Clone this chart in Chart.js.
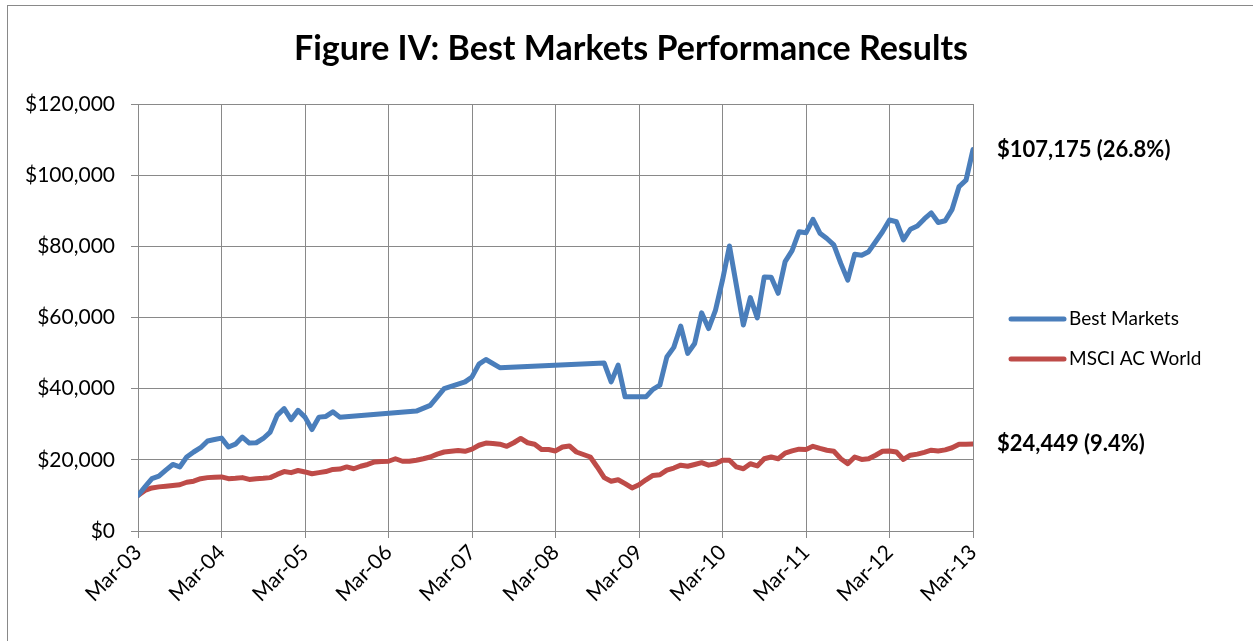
<!DOCTYPE html>
<html>
<head>
<meta charset="utf-8">
<script src="https://cdn.jsdelivr.net/npm/chart.js@4.4.1/dist/chart.umd.min.js"></script>
<style>
  html, body { margin: 0; padding: 0; background: #fff; }
  #wrap { width: 1253px; height: 641px; }
</style>
</head>
<body>
<div id="wrap"><canvas id="myChart" width="1253" height="641"></canvas></div>
<script>
// x axis: months counted from Mar-03
const tickLabels = ['Mar-03', 'Mar-04', 'Mar-05', 'Mar-06', 'Mar-07', 'Mar-08',
                    'Mar-09', 'Mar-10', 'Mar-11', 'Mar-12', 'Mar-13'];

// Best Markets (month index -> value)
const bestMonths = [0, 1, 2, 3, 4, 5, 6, 7, 8, 9, 10, 11, 12, 13, 14, 15, 16, 17, 18, 19,
                    20, 21, 22, 23, 24, 25, 26, 27, 28, 29, 40, 42, 44, 47, 48, 49, 50, 52, 67, 68,
                    69, 70, 73, 74, 75, 76, 77, 78, 79, 80, 81, 82, 83, 84, 85, 87, 88, 89, 90, 91,
                    92, 93, 94, 95, 96, 97, 98, 99, 100, 101, 102, 103, 104, 105, 106, 107, 108, 109, 110, 111,
                    112, 113, 114, 115, 116, 117, 118, 119, 120];
const bestValues = [10000, 12400, 14700, 15400, 17100, 18700, 18000, 20800, 22200, 23400,
                    25300, 25700, 26100, 23600, 24400, 26400, 24700, 24800, 26000, 27800,
                    32500, 34400, 31300, 33900, 32000, 28500, 32000, 32200, 33500, 32000,
                    33700, 35300, 40000, 41900, 43300, 46900, 48200, 45900, 47200, 41900,
                    46600, 37700, 37700, 39800, 41000, 48900, 51600, 57600, 49900, 52700,
                    61300, 56900, 62100, 70500, 80100, 57900, 65600, 59900, 71400, 71300,
                    66800, 75700, 78800, 84100, 83800, 87600, 83700, 82200, 80400, 75200,
                    70500, 77800, 77500, 78500, 81300, 84100, 87400, 86900, 81800, 84800,
                    85700, 87700, 89400, 86700, 87200, 90400, 96800, 98600, 107175];

// MSCI AC World, one value per month from Mar-03 to Mar-13
const msciValues = [10000, 11400, 12100, 12400, 12600, 12800, 13000, 13700, 14000, 14700,
                    15000, 15100, 15200, 14700, 14800, 15000, 14500, 14700, 14800, 15000,
                    15900, 16700, 16400, 17000, 16600, 16100, 16400, 16700, 17300, 17400,
                    18000, 17500, 18200, 18700, 19400, 19500, 19600, 20300, 19600, 19600,
                    19900, 20300, 20800, 21600, 22200, 22400, 22600, 22400, 23000, 24100,
                    24700, 24600, 24400, 23800, 24800, 26000, 24800, 24400, 22900, 22900,
                    22500, 23600, 23900, 22200, 21500, 20800, 18000, 15000, 14000, 14400,
                    13300, 12100, 13000, 14400, 15600, 15800, 17100, 17700, 18500, 18200,
                    18700, 19200, 18500, 18900, 19900, 19900, 18000, 17500, 18900, 18300,
                    20300, 20800, 20300, 21900, 22500, 23000, 22900, 23800, 23200, 22700,
                    22400, 20300, 18900, 20800, 20100, 20300, 21300, 22400, 22500, 22200,
                    20100, 21300, 21600, 22100, 22700, 22500, 22800, 23400, 24400, 24400,
                    24449];

const chartTitle = 'Figure IV: Best Markets Performance Results';
const endLabels = ['$107,175 (26.8%)', '$24,449 (9.4%)'];
const seriesNames = ['Best Markets', 'MSCI AC World'];

const blue = '#4a7ebb';
const red = '#be4b48';
const grey = '#898989';
const fontName = 'Lato, "Open Sans", sans-serif';

// frame, title, legend and end-of-line labels
const extras = {
    id: 'extras',
    beforeDraw(chart) {
        const ctx = chart.ctx;
        ctx.save();
        ctx.fillStyle = '#fff';
        ctx.fillRect(0, 0, chart.width, chart.height);
        ctx.strokeStyle = grey;
        ctx.lineWidth = 1;
        ctx.strokeRect(7.5, 5.5, 1400, 800);
        ctx.restore();
    },
    afterDraw(chart) {
        const ctx = chart.ctx;
        const y = chart.scales.y;
        const x = chart.scales.x;
        ctx.save();
        ctx.fillStyle = '#000';
        // title, centred on the whole frame
        ctx.font = 'bold 34px ' + fontName;
        ctx.textAlign = 'center';
        ctx.textBaseline = 'alphabetic';
        ctx.fillText(chartTitle, 631, 60);
        // labels at the last points
        ctx.font = 'bold 22px ' + fontName;
        ctx.textBaseline = 'middle';
        ctx.textAlign = 'left';
        const lastBest = bestValues[bestValues.length - 1];
        const lastMsci = msciValues[msciValues.length - 1];
        ctx.fillText(endLabels[0], x.right + 24, y.getPixelForValue(lastBest));
        ctx.fillText(endLabels[1], x.right + 24, y.getPixelForValue(lastMsci));
        // legend
        const colors = [blue, red];
        const rows = [319, 359];
        ctx.font = '19px ' + fontName;
        ctx.lineCap = 'round';
        ctx.lineWidth = 5;
        rows.forEach((ry, i) => {
            ctx.strokeStyle = colors[i];
            ctx.beginPath();
            ctx.moveTo(1011, ry);
            ctx.lineTo(1064, ry);
            ctx.stroke();
            ctx.fillText(seriesNames[i], 1069, ry);
        });
        ctx.restore();
    }
};

const ctx = document.getElementById('myChart').getContext('2d');
const myChart = new Chart(ctx, {
    type: 'line',
    data: {
        datasets: [{
            label: seriesNames[0],
            data: bestMonths.map((m, i) => ({ x: m, y: bestValues[i] })),
            borderColor: blue,
            borderWidth: 5,
            pointRadius: 0,
            tension: 0,
            borderJoinStyle: 'round',
            borderCapStyle: 'round',
            fill: false
        }, {
            label: seriesNames[1],
            data: msciValues.map((v, i) => ({ x: i, y: v })),
            borderColor: red,
            borderWidth: 5,
            pointRadius: 0,
            tension: 0,
            borderJoinStyle: 'round',
            borderCapStyle: 'round',
            fill: false
        }]
    },
    options: {
        responsive: false,
        animation: false,
        layout: { padding: { left: 0, right: 280, top: 104, bottom: 0 } },
        plugins: {
            legend: { display: false },
            tooltip: { enabled: false },
            title: { display: false }
        },
        scales: {
            x: {
                type: 'linear',
                min: 0,
                max: 120,
                afterFit: s => { s.height = 110; },
                grid: { color: grey, lineWidth: 1, tickLength: 7, drawTicks: true },
                border: { color: grey, width: 1 },
                ticks: {
                    stepSize: 12,
                    autoSkip: false,
                    minRotation: 45,
                    maxRotation: 45,
                    padding: 2,
                    color: '#000',
                    font: { family: fontName, size: 21 },
                    callback: v => tickLabels[v / 12]
                }
            },
            y: {
                min: 0,
                max: 120000,
                afterFit: s => { s.width = 138; },
                grid: { color: grey, lineWidth: 1, tickLength: 7 },
                border: { color: grey, width: 1 },
                ticks: {
                    stepSize: 20000,
                    padding: 16,
                    color: '#000',
                    font: { family: fontName, size: 21 },
                    callback: v => '$' + v.toLocaleString('en-US')
                }
            }
        }
    },
    plugins: [extras]
});
</script>
</body>
</html>
